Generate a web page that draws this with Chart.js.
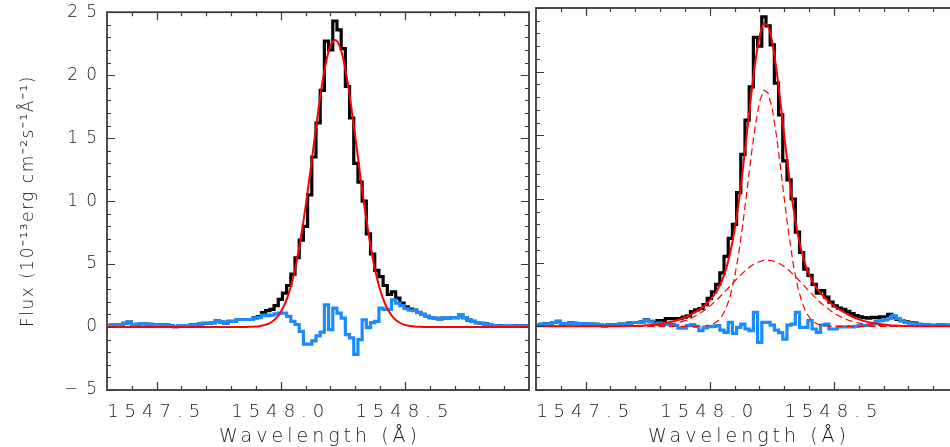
<!DOCTYPE html>
<html><head><meta charset="utf-8">
<script src="https://cdn.jsdelivr.net/npm/chart.js@4.4.1/dist/chart.umd.min.js"></script>
<style>
html,body{margin:0;padding:0;background:#fff;overflow:hidden;width:950px;height:447px;}
#wrapL{position:absolute;left:0;top:0;width:532px;height:447px;}
#wrapR{position:absolute;left:532px;top:0;width:429px;height:447px;}
</style></head><body>
<div id="wrapL"><canvas id="cL"></canvas></div>
<div id="wrapR"><canvas id="cR"></canvas></div>
<script>
// ---- data ----
const wavelength = [
1547.3054,1547.3223,1547.3392,1547.3561,1547.3730,1547.3899,1547.4068,1547.4237,1547.4406,1547.4575,
1547.4744,1547.4913,1547.5082,1547.5251,1547.5420,1547.5589,1547.5758,1547.5927,1547.6096,1547.6265,
1547.6434,1547.6603,1547.6772,1547.6941,1547.7110,1547.7279,1547.7448,1547.7617,1547.7786,1547.7955,
1547.8124,1547.8293,1547.8462,1547.8631,1547.8800,1547.8969,1547.9138,1547.9307,1547.9476,1547.9645,
1547.9814,1547.9983,1548.0152,1548.0321,1548.0490,1548.0659,1548.0828,1548.0997,1548.1166,1548.1335,
1548.1504,1548.1673,1548.1842,1548.2011,1548.2180,1548.2349,1548.2518,1548.2687,1548.2856,1548.3025,
1548.3194,1548.3363,1548.3532,1548.3701,1548.3870,1548.4039,1548.4208,1548.4377,1548.4546,1548.4715,
1548.4884,1548.5053,1548.5222,1548.5391,1548.5560,1548.5729,1548.5898,1548.6067,1548.6236,1548.6405,
1548.6574,1548.6743,1548.6912,1548.7081,1548.7250,1548.7419,1548.7588,1548.7757,1548.7926,1548.8095,
1548.8264,1548.8433,1548.8602,1548.8771,1548.8940,1548.9109,1548.9278,1548.9447,1548.9616,1548.9785,
1548.9954];

const fluxObserved = [
0.08,0.15,0.2,0.2,0.3,0.4,0.2,0.22,0.28,0.24,
0.22,0.2,0.18,0.18,0.15,0.1,0.04,0.12,0.12,0.12,
0.18,0.18,0.25,0.3,0.3,0.35,0.5,0.4,0.3,0.45,
0.45,0.6,0.6,0.6,0.6,0.72,0.82,1.15,1.3,1.4,
1.7,2.2,2.7,3.3,4.2,5.5,6.9,8.0,10.5,13.5,
16.2,18.8,22.7,22.0,24.3,23.6,22.1,19.1,16.6,13.0,
11.5,10.0,7.4,5.8,4.5,4.0,3.3,2.6,2.8,2.3,
1.9,1.6,1.43,1.34,1.17,1.0,0.85,0.75,0.68,0.65,
0.7,0.68,0.75,0.75,0.95,0.75,0.55,0.45,0.35,0.3,
0.25,0.15,0.12,0.1,0.08,0.08,0.12,0.1,0.08,0.1,
0.1];

const fitSingle = [
0,0,0,0,0,0,0,0,0,0,
0,0,0,0,0,0,0,0,0,0,
0,0,0,0,0,0,0,0,0,0,
0,0,0,0.01,0.02,0.04,0.07,0.14,0.24,0.42,
0.71,1.14,1.78,2.67,3.86,5.41,7.31,9.52,11.99,14.57,
17.1,19.37,21.2,22.39,22.8,22.42,21.29,19.51,17.27,14.76,
12.17,9.7,7.45,5.49,3.93,2.72,1.81,1.17,0.73,0.44,
0.25,0.14,0.08,0.04,0.02,0.01,0,0,0,0,
0,0,0,0,0,0,0,0,0,0,
0,0,0,0,0,0,0,0,0,0,
0];

const residualSingle = [
0.08,0.15,0.2,0.2,0.3,0.4,0.2,0.22,0.28,0.24,
0.22,0.2,0.18,0.18,0.15,0.1,0.04,0.12,0.12,0.12,
0.18,0.18,0.25,0.3,0.3,0.35,0.5,0.4,0.3,0.45,
0.45,0.6,0.6,0.6,0.6,0.7,0.75,0.95,0.9,0.95,
1.05,1.1,1.1,0.85,0.45,0.2,-0.35,-1.35,-1.35,-1.1,
-0.7,-0.4,1.76,-0.2,1.5,1.1,0.7,-0.6,-0.86,-2.17,
-1.0,0.58,-0.05,0.35,0.45,1.5,1.4,1.4,2.15,1.9,
1.7,1.45,1.35,1.3,1.15,1.0,0.85,0.75,0.68,0.65,
0.7,0.68,0.75,0.75,0.95,0.75,0.55,0.45,0.35,0.3,
0.25,0.15,0.12,0.1,0.08,0.08,0.12,0.1,0.08,0.1,
0.1];

const fitTotal = [
0,0,0,0,0,0,0,0,0,0,
0,0,0,0,0,0,0,0,0,0.01,
0.01,0.015,0.02,0.03,0.04,0.055,0.08,0.10,0.13,0.17,
0.22,0.28,0.36,0.45,0.56,0.69,0.83,1.0,1.2,1.41,
1.69,2.01,2.4,2.91,3.58,4.53,5.82,7.55,9.74,12.39,
15.3,18.24,20.86,22.81,23.76,23.58,22.31,20.15,17.44,14.55,
11.79,9.36,7.39,5.87,4.74,3.92,3.3,2.82,2.44,2.09,
1.8,1.55,1.32,1.12,0.93,0.77,0.63,0.51,0.41,0.33,
0.26,0.2,0.155,0.12,0.09,0.067,0.05,0.036,0.026,0.018,
0.013,0.009,0,0,0,0,0,0,0,0,
0];

const fitNarrow = [
0,0,0,0,0,0,0,0,0,0,
0,0,0,0,0,0,0,0,0,0,
0,0,0,0,0,0,0,0,0,0,
0,0,0,0,0,0,0,0,0,0.02,
0.04,0.10,0.21,0.42,0.79,1.42,2.4,3.81,5.71,8.07,
10.73,13.45,15.89,17.69,18.55,18.33,17.07,14.97,12.38,9.64,
7.08,4.89,3.19,1.96,1.13,0.62,0.32,0.15,0.07,0.03,
0,0,0,0,0,0,0,0,0,0,
0,0,0,0,0,0,0,0,0,0,
0,0,0,0,0,0,0,0,0,0,
0];

const fitBroad = [
0,0,0,0,0,0,0,0,0,0,
0,0,0,0,0,0,0,0,0,0,
0,0,0,0,0.01,0.02,0.03,0.04,0.055,0.08,
0.1,0.14,0.19,0.26,0.33,0.43,0.55,0.70,0.87,1.07,
1.30,1.55,1.84,2.15,2.48,2.83,3.18,3.54,3.88,4.2,
4.49,4.75,4.95,5.09,5.18,5.2,5.15,5.04,4.87,4.65,
4.38,4.08,3.74,3.4,3.04,2.69,2.35,2.02,1.72,1.45,
1.2,0.98,0.8,0.64,0.5,0.39,0.3,0.23,0.17,0.13,
0.09,0.07,0.05,0.035,0.025,0.02,0.01,0,0,0,
0,0,0,0,0,0,0,0,0,0,
0];

const residualDouble = [
0.08,0.15,0.2,0.2,0.3,0.4,0.2,0.22,0.28,0.24,
0.22,0.2,0.18,0.18,0.15,0.1,0.04,0.12,0.12,0.12,
0.18,0.18,0.2,0.3,0.3,0.35,0.48,0.35,0.15,0.25,
0.15,0.15,0.12,0.08,-0.15,-0.15,0.05,0.13,0.0,-0.34,
-0.13,-0.03,0.0,0.05,-0.3,-0.47,0.31,-0.55,-0.08,0.18,
-0.21,-0.34,1.1,-1.26,0.31,0.31,0.1,-0.3,-0.5,-1.0,
0.1,0.18,1.1,-0.08,-0.08,0.45,-0.21,-0.47,0.1,0.18,
-0.21,-0.21,-0.05,-0.05,-0.05,-0.05,0.0,0.05,0.05,0.1,
0.2,0.4,0.45,0.5,0.6,0.85,0.6,0.45,0.3,0.25,
0.2,0.15,0.12,0.1,0.08,0.08,0.12,0.1,0.08,0.1,
0.1];

const xMajorTicks = [1547.5, 1548.0, 1548.5];
const xMinorTicks = [1547.4,1547.5,1547.6,1547.7,1547.8,1547.9,1548.0,1548.1,1548.2,1548.3,1548.4,1548.5,1548.6,1548.7,1548.8,1548.9];
const yMajorTicks = [-5, 0, 5, 10, 15, 20, 25];
const yMinorTicks = [-4,-3,-2,-1,1,2,3,4,6,7,8,9,11,12,13,14,16,17,18,19,21,22,23,24];
const xAxisTitle = 'Wavelength (Å)';
const yAxisTitle = 'Flux (10⁻¹³erg cm⁻²s⁻¹Å⁻¹)';

// ---- styling ----
const FONT = "'DejaVu Sans'";
const TEXT = '#1a1a1a';
const BLUE = 'rgb(26,140,255)';

function pts(arr){ return arr.map((v,i)=>({x:wavelength[i], y:v})); }

const framePlugin = {
  id: 'frame',
  beforeDraw(chart){
    for (const s of Object.values(chart.scales)) {
      if (s._spPatched) continue;
      const orig = s.drawLabels;
      s.drawLabels = function(area){
        const c = this.ctx; const prev = c.letterSpacing;
        c.letterSpacing = (this.axis === 'x' ? 6 : 8) + 'px';
        orig.call(this, area);
        c.letterSpacing = prev;
      };
      s._spPatched = true;
    }
  },
  afterDatasetsDraw(chart){
    const {ctx, chartArea:a, scales} = chart;
    const x = scales.x, y = scales.y;
    ctx.save();
    ctx.strokeStyle = '#3a3a3a';
    ctx.lineWidth = 1.2;
    ctx.beginPath();
    for (const v of xMinorTicks) {
      const px = Math.round(x.getPixelForValue(v)) + 0.5;
      const len = xMajorTicks.includes(v) ? 8 : 4;
      ctx.moveTo(px, a.bottom); ctx.lineTo(px, a.bottom - len);
      ctx.moveTo(px, a.top); ctx.lineTo(px, a.top + len);
    }
    for (const v of yMajorTicks.concat(yMinorTicks)) {
      const py = Math.round(y.getPixelForValue(v)) + 0.5;
      const len = yMajorTicks.includes(v) ? 8 : 4;
      ctx.moveTo(a.left, py); ctx.lineTo(a.left + len, py);
      ctx.moveTo(a.right, py); ctx.lineTo(a.right - len, py);
    }
    ctx.stroke();
    ctx.lineWidth = 1.8;
    ctx.strokeRect(a.left, a.top, a.right - a.left, a.bottom - a.top);
    ctx.restore();
  },
  afterDraw(chart, args, opts){
    const {ctx, chartArea:a} = chart;
    ctx.save();
    ctx.fillStyle = TEXT;
    ctx.font = `300 19px ${FONT}`;
    ctx.letterSpacing = '4px';
    ctx.textAlign = 'center';
    ctx.textBaseline = 'alphabetic';
    ctx.fillText(xAxisTitle, (a.left + a.right)/2 + 2, 442);
    if (opts.yTitle) {
      ctx.translate(33, (a.top + a.bottom)/2);
      ctx.rotate(-Math.PI/2);
      ctx.font = `300 17px ${FONT}`;
      ctx.letterSpacing = '1.5px';
      ctx.fillText(yAxisTitle, 0, 0);
    }
    ctx.restore();
  }
};

function makeChart(id, datasets, showY){
  return new Chart(document.getElementById(id), {
    type: 'line',
    data: { datasets },
    options: {
      animation: false, responsive: true, maintainAspectRatio: false, devicePixelRatio: 1,
      events: [],
      layout: { padding: { left: 0, right: 3, top: 8, bottom: 0 } },
      elements: { point: { radius: 0 } },
      plugins: { legend: { display: false }, tooltip: { enabled: false }, frame: { yTitle: showY } },
      scales: {
        x: {
          type: 'linear', min: 1547.3, max: 1549.0,
          grid: { display: false, drawTicks: false }, border: { display: false },
          afterBuildTicks: s => { s.ticks = xMajorTicks.map(v => ({ value: v })); },
          afterFit: s => { s.height = 57; },
          ticks: { color: TEXT, padding: 12, font: { family: FONT, size: 18, weight: '300' },
                   maxRotation: 0, autoSkip: false, callback: v => v.toFixed(1) }
        },
        y: {
          type: 'linear', min: -5, max: 25,
          grid: { display: false, drawTicks: false }, border: { display: false },
          afterBuildTicks: s => { s.ticks = yMajorTicks.map(v => ({ value: v })); },
          afterFit: s => { s.width = showY ? 107 : 4; },
          ticks: { display: showY, color: TEXT, padding: 2, font: { family: FONT, size: 17, weight: '300' },
                   callback: v => (v < 0 ? '−' + Math.abs(v) : String(v)) }
        }
      }
    },
    plugins: [framePlugin]
  });
}

makeChart('cL', [
  { data: pts(fitSingle), borderColor: '#ff0000', borderWidth: 2, cubicInterpolationMode: 'monotone', order: 0 },
  { data: pts(residualSingle), borderColor: BLUE, borderWidth: 3.2, stepped: 'middle', order: 1 },
  { data: pts(fluxObserved), borderColor: '#000000', borderWidth: 3.2, stepped: 'middle', order: 2 }
], true);

makeChart('cR', [
  { data: pts(fitTotal), borderColor: '#ff0000', borderWidth: 2, cubicInterpolationMode: 'monotone', order: 0 },
  { data: pts(fitNarrow), borderColor: '#ff0000', borderWidth: 1.2, borderDash: [7, 4], order: 0 },
  { data: pts(fitBroad), borderColor: '#ff0000', borderWidth: 1.2, borderDash: [7, 4], order: 0 },
  { data: pts(residualDouble), borderColor: BLUE, borderWidth: 3.2, stepped: 'middle', order: 1 },
  { data: pts(fluxObserved), borderColor: '#000000', borderWidth: 3.2, stepped: 'middle', order: 2 }
], false);
</script>
</body></html>
